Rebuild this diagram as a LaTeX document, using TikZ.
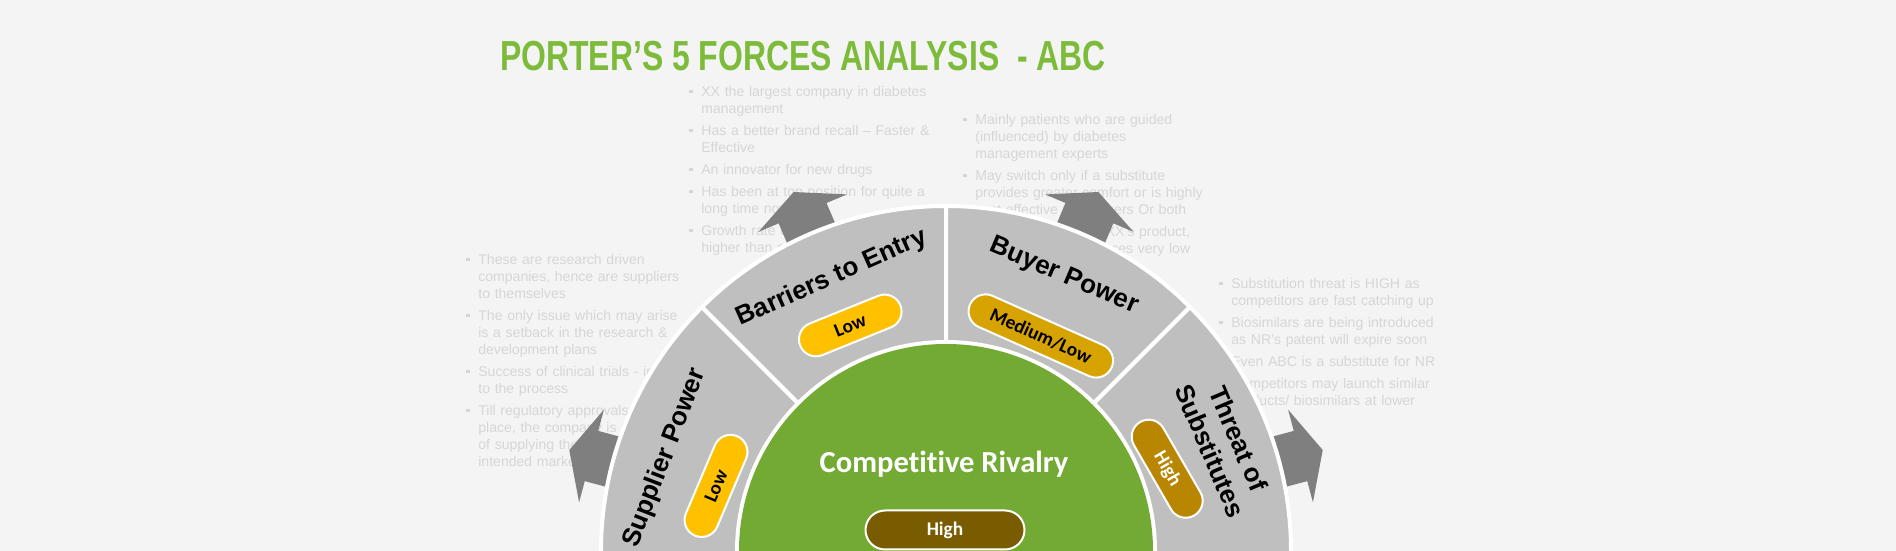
\documentclass[tikz,border=0pt]{standalone}
\usepackage{fontspec}
\setmainfont{Liberation Sans}
\newfontfamily\calib[Ligatures=NoCommon]{Carlito}
\usetikzlibrary{positioning}

\definecolor{bgcol}{RGB}{244,244,244}
\definecolor{ttlgreen}{RGB}{125,187,58}
\definecolor{ringgray}{RGB}{191,191,191}
\definecolor{arrgray}{RGB}{127,127,127}
\definecolor{rivgreen}{RGB}{114,170,52}
\definecolor{pillyel}{RGB}{255,192,0}
\definecolor{pillgold}{RGB}{214,163,0}
\definecolor{pillochre}{RGB}{184,134,0}
\definecolor{pillbrown}{RGB}{122,92,0}
\definecolor{notegray}{RGB}{214,214,214}

% one bullet point with hanging indent
\newcommand{\bpt}{\par\hangindent=2.4mm\hangafter=1\noindent\makebox[2.4mm][l]{\raisebox{0.22em}{\rule{0.7mm}{0.7mm}}}}

\begin{document}
\begin{tikzpicture}[x=0.2mm, y=0.2mm,
  note/.style={text=notegray, anchor=north west, inner sep=0pt, text width=56mm, align=left,
    font=\fontsize{8pt}{9.67pt}\selectfont, execute at begin node={\parskip=1mm\relax}},
  seg/.style={fill=ringgray, draw=white, line width=0.8mm, line join=round},
  blockarr/.style={fill=arrgray},
  seglbl/.style={inner sep=0pt, align=center, font=\bfseries\fontsize{14.8pt}{17.5pt}\selectfont},
  pill/.style={draw=white, line width=0.4mm, rounded corners=3.4mm, minimum height=6.8mm, inner sep=0pt,
    font=\calib\bfseries\fontsize{11pt}{13pt}\selectfont}]
\fill[bgcol] (0,0) rectangle (1896,551);
\useasboundingbox (0,0) rectangle (1896,551);

\node[text=ttlgreen, font=\bfseries\fontsize{23.9pt}{28pt}\selectfont] (ttl) at (803,495)
  {\scalebox{0.76}[1]{PORTER’S 5 FORCES ANALYSIS\ \ - ABC}};

\node[note] (n1) at (466,309) {\bpt These are research driven\newline companies, hence are suppliers\newline to themselves
\bpt The only issue which may arise\newline is a setback in the research \&\newline development plans
\bpt Success of clinical trials - integral\newline to the process
\bpt Till regulatory approvals are in\newline place, the company is not capable\newline of supplying the drugs to the\newline intended market\par};
\node[note] (n2) at (689,477) {\bpt XX the largest company in diabetes\newline management
\bpt Has a better brand recall – Faster \&\newline Effective
\bpt An innovator for new drugs
\bpt Has been at top position for quite a\newline long time now
\bpt Growth rate consistently\newline higher than competitors\par};
\node[note] (n3) at (963,449) {\bpt Mainly patients who are guided\newline (influenced) by diabetes\newline management experts
\bpt May switch only if a substitute\newline provides greater comfort or is highly\newline cost effective than others Or both
\bpt Patients are loyal to XX’s product,\newline hence switching chances very low\par};
\node[note] (n4) at (1219,285) {\bpt Substitution threat is HIGH as\newline competitors are fast catching up
\bpt Biosimilars are being introduced\newline as NR’s patent will expire soon
\bpt Even ABC is a substitute for NR
\bpt Competitors may launch similar\newline products/ biosimilars at lower\par};

\begin{scope}[shift={(946,0)}]
\foreach \a in {15,67,113,165}
  \fill[blockarr, rotate=\a] (300,-26) -- (367,-26) -- (367,-48) -- (390,0) -- (367,48) -- (367,26) -- (300,26) -- cycle;

\foreach \s/\e in {135/183, 90/135, 45/90, -3/45}
  \filldraw[seg] (\s:209) arc[start angle=\s, end angle=\e, radius=209] -- (\e:345)
    arc[start angle=\e, end angle=\s, radius=345] -- cycle;
\fill[rivgreen] (0,0) circle (207);

\node[seglbl, rotate=69] (sp) at (161.7:296) {Supplier Power};
\node[seglbl, rotate=24] (be) at (112.7:296) {Barriers to Entry};
\node[seglbl, rotate=-23] (bp) at (66.8:299) {Buyer Power};
\node[seglbl, rotate=-67] (ts) at (20.9:298) {Threat of\\Substitutes};

\node[pill, fill=pillyel, minimum width=21.6mm, rotate=67] (lsp) at (164.2:239) {Low};
\node[pill, fill=pillyel, minimum width=21.6mm, rotate=22] (lbe) at (113:245) {Low};
\node[pill, fill=pillgold, minimum width=31mm, rotate=-24] (lbp) at (66.2:235) {Medium/Low};
\node[pill, fill=pillochre, text=white, minimum width=21.6mm, rotate=-60] (lts) at (20.4:236) {High};

\node[text=white, font=\calib\bfseries\fontsize{17.4pt}{20pt}\selectfont] (cr) at (-2,87) {Competitive Rivalry};
\node[pill, fill=pillbrown, text=white, minimum width=31.8mm, minimum height=7.8mm, rounded corners=3.9mm] (lcr) at (-1,21) {High};
\end{scope}
\end{tikzpicture}
\end{document}
